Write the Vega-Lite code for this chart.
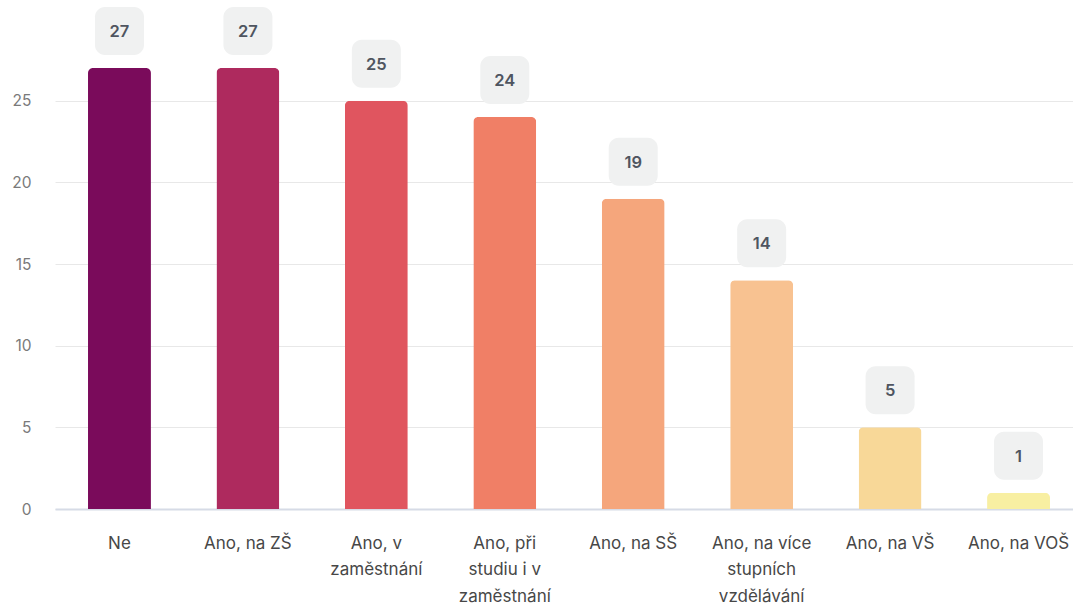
{
  "$schema": "https://vega.github.io/schema/vega-lite/v6.json",
  "autosize": "none",
  "width": 1018,
  "height": 490,
  "padding": {"left": 55, "top": 19, "right": 0, "bottom": 96},
  "background": "white",
  "config": {
    "font": "Inter",
    "view": {"stroke": null}
  },
  "data": {
    "values": [
      {"kategorie": "Ne", "pocet": 27},
      {"kategorie": "Ano, na ZŠ", "pocet": 27},
      {"kategorie": "Ano, v zaměstnání", "pocet": 25},
      {"kategorie": "Ano, při studiu i v zaměstnání", "pocet": 24},
      {"kategorie": "Ano, na SŠ", "pocet": 19},
      {"kategorie": "Ano, na více stupních vzdělávání", "pocet": 14},
      {"kategorie": "Ano, na VŠ", "pocet": 5},
      {"kategorie": "Ano, na VOŠ", "pocet": 1}
    ]
  },
  "encoding": {
    "x": {
      "field": "kategorie",
      "type": "nominal",
      "sort": null,
      "scale": {"range": [0, 1028], "paddingInner": 0.51, "paddingOuter": 0.257},
      "axis": {
        "title": null,
        "labelAngle": 0,
        "labelFont": "Inter",
        "labelFontSize": 17,
        "labelColor": "#474747",
        "labelLineHeight": 26.5,
        "labelPadding": 26,
        "labelLimit": 200,
        "ticks": false,
        "domainColor": "#d6dbe6",
        "domainWidth": 2,
        "labelExpr": "datum.value == 'Ano, v zaměstnání' ? ['Ano, v', 'zaměstnání'] : datum.value == 'Ano, při studiu i v zaměstnání' ? ['Ano, při', 'studiu i v', 'zaměstnání'] : datum.value == 'Ano, na více stupních vzdělávání' ? ['Ano, na více', 'stupních', 'vzdělávání'] : datum.value"
      }
    }
  },
  "layer": [
    {
      "mark": {"type": "bar", "cornerRadiusEnd": 5},
      "encoding": {
        "y": {
          "field": "pocet",
          "type": "quantitative",
          "scale": {"domain": [0, 30], "nice": false},
          "axis": {
            "title": null,
            "values": [0, 5, 10, 15, 20, 25],
            "labelFont": "Inter",
            "labelFontSize": 15.5,
            "labelColor": "#7a7a7a",
            "labelPadding": 24,
            "ticks": false,
            "domain": false,
            "gridColor": "#e8e8e8",
            "gridWidth": 1
          }
        },
        "color": {
          "field": "kategorie",
          "type": "nominal",
          "sort": null,
          "legend": null,
          "scale": {
            "domain": ["Ne", "Ano, na ZŠ", "Ano, v zaměstnání", "Ano, při studiu i v zaměstnání", "Ano, na SŠ", "Ano, na více stupních vzdělávání", "Ano, na VŠ", "Ano, na VOŠ"],
            "range": ["#7a0b5b", "#ae2a5e", "#e0555f", "#f07f66", "#f5a67c", "#f8c291", "#f8d898", "#f8efa2"]
          }
        }
      }
    },
    {
      "mark": {"type": "bar", "width": 49, "cornerRadius": 10, "color": "#f0f1f1", "yOffset": -61, "y2Offset": -13},
      "encoding": {
        "y": {"field": "pocet", "type": "quantitative"},
        "y2": {"field": "pocet"}
      }
    },
    {
      "mark": {"type": "text", "dy": -36, "fontSize": 16.5, "fontWeight": 600, "color": "#4f5560", "font": "Inter", "baseline": "middle"},
      "encoding": {
        "y": {"field": "pocet", "type": "quantitative"},
        "text": {"field": "pocet", "type": "quantitative"}
      }
    }
  ]
}
